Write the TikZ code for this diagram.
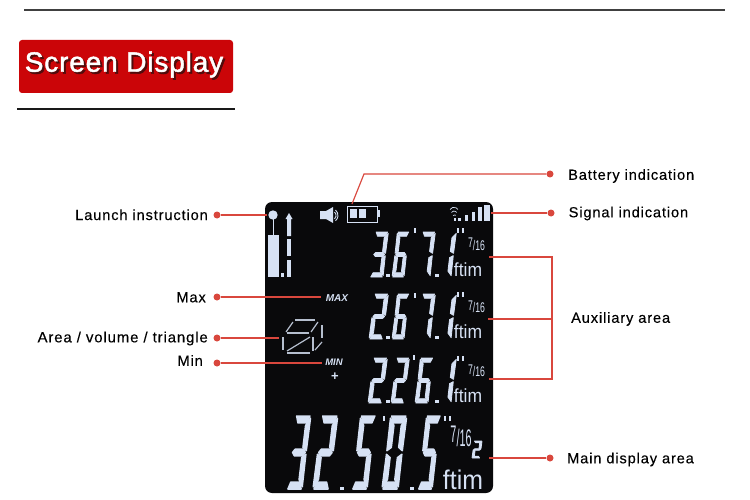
\documentclass[tikz,border=0pt]{standalone}
\usepackage{graphicx}
\usepackage{fontspec}
\setmainfont{Liberation Sans}
\newfontfamily\labelfont[LetterSpace=6,FakeBold=0.2]{Liberation Sans}
\newfontfamily\titlefont[LetterSpace=3,FakeBold=1.6]{Liberation Sans}
\usetikzlibrary{positioning}
\definecolor{leadred}{HTML}{D9473D}
\definecolor{boxred}{HTML}{CB0508}
\definecolor{shadowred}{HTML}{500C0C}
\definecolor{lcdblue}{HTML}{D6E1F4}
\definecolor{panelblack}{HTML}{09090B}
\newcommand\sega{(.06,1)--(.94,1)--(.8,.905)--(.2,.905)--cycle}
\newcommand\segb{(1,.97)--(.73,.87)--(.73,.57)--(.98,.525)--cycle}
\newcommand\segc{(.98,.475)--(.73,.43)--(.73,.13)--(1,.03)--cycle}
\newcommand\segd{(.06,0)--(.94,0)--(.8,.095)--(.2,.095)--cycle}
\newcommand\sege{(.02,.475)--(.27,.43)--(.27,.13)--(0,.03)--cycle}
\newcommand\segf{(0,.97)--(.27,.87)--(.27,.57)--(.02,.525)--cycle}
\newcommand\segg{(.08,.5)--(.22,.545)--(.78,.545)--(.92,.5)--(.78,.455)--(.22,.455)--cycle}
\newcommand\lcddigit[6][]{\begin{scope}[shift={(#2,#3)},x=#4pt,y=#5pt,xslant=0.12]
\foreach \s in {#6} {\expandafter\let\expandafter\segpath\csname seg\s\endcsname \path[lcdseg,#1] \segpath;}
\end{scope}}
\newcommand\shadowtext[1]{\rlap{\kern2pt\raisebox{-2pt}{\textcolor{shadowred}{#1}}}#1}
\newcommand\unitword{\scalebox{0.92}[1]{ftim}}
\newcommand\smallfrac{\scalebox{0.62}[1]{\raisebox{2pt}{7}/16}}
\newcommand\bigfrac{\scalebox{0.45}[1]{\raisebox{4pt}{7}/16}}
\tikzset{
lcdseg/.style={fill=lcdblue,draw=lcdblue,line width=0.8pt,line join=round},
bigseg/.style={line width=1.5pt},
leadline/.style={draw=leadred,line width=1.2pt},
leaddot/.style={circle,fill=leadred,minimum width=7pt,inner sep=0pt},
callout/.style={font=\labelfont\fontsize{14.6}{16}\selectfont,inner sep=0pt,text=black},
lcdbar/.style={fill=lcdblue},
cubeseg/.style={draw=lcdblue!85!black,line width=1.2pt},
unittext/.style={font=\fontsize{19}{19}\selectfont,text=lcdblue,inner sep=0pt,anchor=base},
fractext/.style={font=\fontsize{14}{14}\selectfont,text=lcdblue,inner sep=0pt,anchor=base}
}
\begin{document}
\begin{tikzpicture}[x=1pt,y=-1pt]
\useasboundingbox (0,0) rectangle (750,500);
\fill[white] (0,0) rectangle (750,500);
\draw[line width=1.2pt,black!75] (24,10) -- (725,10);
\draw[line width=1.2pt,black!90] (17,109) -- (235,109);
\node[fill=boxred,rounded corners=3pt,minimum width=214pt,minimum height=53pt,inner sep=0pt] (titlebox) at (126,66.5){};
\node[inner sep=0pt,text=white,font=\titlefont\fontsize{28}{30}\selectfont] (title) at (124,65.5){\shadowtext{Screen Display}};
\node[fill=panelblack,rounded corners=7pt,minimum width=228pt,minimum height=291pt,inner sep=0pt] (panel) at (379,347.5){};
\node[leaddot] (batterydot) at (550,174){};
\node[leaddot] (signaldot) at (551,213){};
\node[leaddot] (launchdot) at (217,215){};
\node[leaddot] (maxdot) at (217,297){};
\node[leaddot] (areadot) at (217,338){};
\node[leaddot] (mindot) at (217,363){};
\node[leaddot] (maindot) at (550,458){};
\node[callout,anchor=west] (battery) at (568,176){Battery indication};
\node[callout,anchor=west] (signal) at (568.5,213.5){Signal indication};
\node[callout,anchor=west] (auxiliary) at (571,319){Auxiliary area};
\node[callout,anchor=west] (maindisplay) at (567,459.5){Main display area};
\node[callout,anchor=east] (launch) at (208,214.8){Launch instruction};
\node[callout,anchor=east] (max) at (206,297.3){Max};
\node[callout,anchor=east,font=\labelfont\fontsize{14.9}{16}\selectfont] (area) at (208,338.5){Area / volume / triangle};
\node[callout,anchor=east] (min) at (203,360.5){Min};
\coordinate (batteryend) at (352,204);
\coordinate (batterybend) at (364,174);
\coordinate (signalend) at (491,213);
\coordinate (launchend) at (267,215);
\coordinate (maxend) at (321,297);
\coordinate (areaend) at (279,338);
\coordinate (minend) at (322,363);
\coordinate (mainend) at (489,458);
\coordinate (auxtop) at (489,257);
\coordinate (auxmid) at (488,319);
\coordinate (auxlow) at (489,379);
\coordinate (auxbendtop) at (552,257);
\coordinate (auxbendmid) at (552,319);
\coordinate (auxbendlow) at (552,379);
\draw[leadline] (batterydot) -- (batterybend) -- (batteryend);
\draw[leadline] (signaldot) -- (signalend);
\draw[leadline] (launchdot) -- (launchend);
\draw[leadline] (maxdot) -- (maxend);
\draw[leadline] (areadot) -- (areaend);
\draw[leadline] (mindot) -- (minend);
\draw[leadline] (maindot) -- (mainend);
\draw[leadline] (auxtop) -- (auxbendtop) -- (auxbendlow) -- (auxlow);
\draw[leadline] (auxmid) -- (auxbendmid);
\fill[lcdbar] (273,215) circle (4.7pt);
\draw[draw=lcdblue,line width=0.8pt] (273,219) -- (273,236);
\fill[lcdbar] (268,235) rectangle (279,277);
\fill[lcdbar] (281,273) rectangle (284,277);
\fill[lcdbar] (289,213) -- (292.5,219) -- (291,219) -- (291,236) -- (287,236) -- (287,219) -- (285.5,219) -- cycle;
\fill[lcdbar] (287,239) rectangle (291,256);
\fill[lcdbar] (287,260) rectangle (291,277);
\fill[lcdbar] (320,211) -- (326,211) -- (333,207) -- (333,223) -- (326,219) -- (320,219) -- cycle;
\draw[draw=lcdblue,line width=0.9pt] (335.5,210) arc (50:-50:7pt) (334.5,212) arc (50:-50:4.5pt);
\draw[draw=lcdblue,line width=1pt] (347.5,206.5) rectangle (377,222.5);
\fill[lcdbar] (350,209) rectangle (357,218);
\fill[lcdbar] (359,209) rectangle (365.5,218);
\fill[lcdbar] (377,210) rectangle (380,217);
\draw[draw=lcdblue,line width=0.7pt] (450,209.5) arc (150:30:4.5pt) (451.5,212.5) arc (150:30:3pt) (453,215.5) arc (150:30:1.5pt);
\fill[lcdbar] (453.5,218) rectangle (456,220.7);
\fill[lcdbar] (458,218) rectangle (461,220.7);
\fill[lcdbar] (465,215) rectangle (468,220.7);
\fill[lcdbar] (472,212) rectangle (475,220.7);
\fill[lcdbar] (478,207) rectangle (482,220.7);
\fill[lcdbar] (484,205) rectangle (490,220.7);
\lcddigit{370}{277}{13}{45}{a,b,g,c,d}
\lcddigit{392}{277}{12}{45}{a,f,g,e,c,d}
\lcddigit{417}{277}{13}{45}{a,b,c}
\lcddigit{437}{277}{14}{45}{b,c}
\lcddigit{369}{339}{14}{45}{a,b,g,e,d}
\lcddigit{392}{339}{12}{45}{a,f,g,e,c,d}
\lcddigit{417}{339}{13}{45}{a,b,c}
\lcddigit{437}{339}{14}{45}{b,c}
\lcddigit{368}{403}{14}{45}{a,b,g,e,d}
\lcddigit{391}{403}{13}{45}{a,b,g,e,d}
\lcddigit{415}{403}{13}{45}{a,f,g,e,c,d}
\lcddigit{437}{403}{14}{45}{b,c}
\lcddigit[bigseg]{287}{489}{15}{73}{a,b,g,c,d}
\lcddigit[bigseg]{313}{489}{16}{73}{a,b,g,e,d}
\lcddigit[bigseg]{352}{489}{15}{73}{a,f,g,c,d}
\lcddigit[bigseg]{382}{489}{16}{73}{a,b,c,d,e,f}
\lcddigit[bigseg]{418}{489}{14}{73}{a,f,g,c,d}
\lcddigit{472}{458}{8}{17}{a,b,g,e,d}
\foreach \dotx/\doty in {388/277,437/277,388/339,437/339,388/403,437/403,342/490,412/490} {\fill[lcdbar] (\dotx-1.8,\doty-3.5) rectangle (\dotx+1.8,\doty);}
\foreach \markx/\marky in {414/228,414/293,413/355,383/416,457/228,462/228,457/292,462/292,457/356,462/356,444/416,449/416} {\fill[lcdbar] (\markx,\marky) rectangle (\markx+2,\marky+5);}
\node[unittext] (unita) at (468,276){\unitword};
\node[unittext] (unitb) at (468,338){\unitword};
\node[unittext] (unitc) at (468,402){\unitword};
\node[unittext,font=\fontsize{27}{27}\selectfont] (unitd) at (463,489){\unitword};
\node[fractext] (fraca) at (476.5,250){\smallfrac};
\node[fractext] (fracb) at (476.5,312){\smallfrac};
\node[fractext] (fracc) at (476.5,376){\smallfrac};
\node[fractext,font=\fontsize{24}{24}\selectfont] (fracd) at (461,446){\bigfrac};
\node[inner sep=0pt,text=lcdblue,font=\itshape\bfseries\fontsize{10}{10}\selectfont] (maxtag) at (337,298){MAX};
\node[inner sep=0pt,text=lcdblue,font=\itshape\bfseries\fontsize{9.5}{10}\selectfont] (mintag) at (334,362){MIN};
\node[inner sep=0pt,text=lcdblue,font=\bfseries\fontsize{13}{13}\selectfont] (plustag) at (335,377){+};
\draw[cubeseg] (295,320) -- (315,320);
\draw[cubeseg] (286,332) -- (293,322);
\draw[cubeseg] (311,332) -- (318,322);
\draw[cubeseg] (287,333) -- (309,333);
\draw[cubeseg] (322,325) -- (322,338);
\draw[cubeseg] (283,337) -- (283,350);
\draw[cubeseg] (313,337) -- (313,351);
\draw[cubeseg] (287,351) -- (310,337);
\draw[cubeseg] (287,353) -- (310,353);
\draw[cubeseg] (315,350) -- (322,342);
\end{tikzpicture}
\end{document}
